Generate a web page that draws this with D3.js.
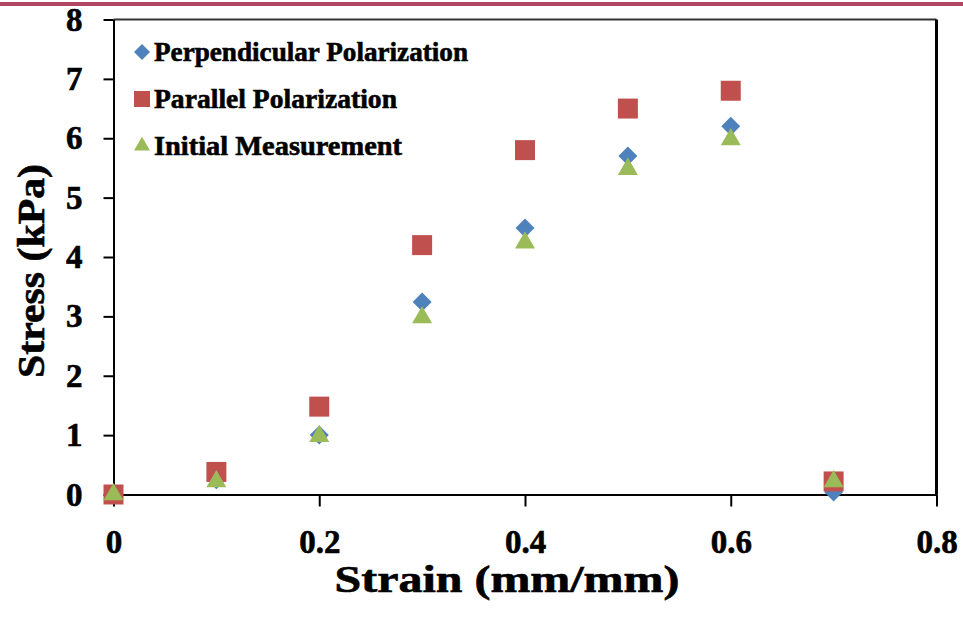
<!DOCTYPE html>
<html>
<head>
<meta charset="utf-8">
<script src="https://cdn.jsdelivr.net/npm/d3@7"></script>
<style>
  body { margin: 0; background: #fff; }
  svg text { font-family: "Times New Roman", "Liberation Serif", Tinos, Times, serif !important; font-weight: bold; stroke: #000; stroke-width: 0.6px; }
</style>
</head>
<body>
<script>
(function() {

var strain        = [0, 0.1, 0.2, 0.3, 0.4, 0.5, 0.6, 0.7],
    perpendicular = [0, 0.25, 1.0, 3.24, 4.49, 5.7, 6.2, 0.04],
    parallel      = [0, 0.38, 1.48, 4.2, 5.8, 6.5, 6.8, 0.22],
    initial       = [0, 0.22, 0.98, 2.98, 4.24, 5.48, 5.98, 0.22],
    seriesNames   = ["Perpendicular Polarization", "Parallel Polarization", "Initial Measurement"],
    xTicks        = [0, 0.2, 0.4, 0.6, 0.8],
    yTicks        = [0, 1, 2, 3, 4, 5, 6, 7, 8];

var width = 963, height = 618,
    left = 113.5, right = 936.5, top = 19.5, bottom = 494.5,
    colors  = ["#4f81bd", "#c0504d", "#9bbb59"],
    shapes  = ["diamond", "square", "triangle"],
    svg, x, y, series;

function marker(shape, s) {
  // s = nominal width of the marker in px
  if (shape === "square")
    return d3.symbol(d3.symbolSquare, s * s)();
  if (shape === "diamond")
    return d3.symbol(d3.symbolSquare, s * s / 2)();
  return d3.symbol(d3.symbolTriangle, s * s * Math.sqrt(3) / 4)();
}

svg = d3.select("body").append("svg")
    .attr("width", width)
    .attr("height", height);

svg.append("rect")
    .attr("x", 0).attr("y", 2)
    .attr("width", width).attr("height", 4)
    .attr("fill", "#b24661");

x = d3.scaleLinear().domain([0, 0.8]).range([left, right]);
y = d3.scaleLinear().domain([0, 8]).range([bottom, top]);

/* frame: top and right */
svg.append("line")
    .attr("x1", left).attr("x2", right)
    .attr("y1", top).attr("y2", top)
    .attr("stroke", "#333").attr("stroke-width", 2);
svg.append("line")
    .attr("x1", right).attr("x2", right)
    .attr("y1", top).attr("y2", bottom)
    .attr("stroke", "#000").attr("stroke-width", 3);

var xAxis = svg.append("g")
    .attr("transform", "translate(0," + bottom + ")")
    .call(d3.axisBottom(x).tickValues(xTicks).tickSize(12).tickSizeOuter(0)
      .tickFormat(function(d) { return d === 0 ? "0" : d3.format(".1f")(d); }));

var yAxis = svg.append("g")
    .attr("transform", "translate(" + left + ",0)")
    .call(d3.axisLeft(y).tickValues(yTicks).tickSize(10).tickSizeOuter(0));

[xAxis, yAxis].forEach(function(g) {
  g.attr("font-family", null).attr("font-size", null);
  g.selectAll("path, line").attr("stroke", "#000").attr("stroke-width", 2);
  g.selectAll("text")
    .attr("fill", "#000")
    .style("font-size", "33px");
});
xAxis.selectAll("text").attr("y", 35);
yAxis.selectAll("text").attr("x", -31);

/* points */
series = [perpendicular, parallel, initial];
series.forEach(function(vals, i) {
  svg.append("g")
    .selectAll("path")
    .data(vals)
    .enter()
    .append("path")
      .attr("d", marker(shapes[i], i === 0 ? 19 : 20))
      .attr("transform", function(d, j) {
        return "translate(" + x(strain[j]) + "," + y(d) + ")" + (i === 0 ? " rotate(45)" : "");
      })
      .attr("fill", colors[i]);
});

/* legend */
var legend = svg.append("g"),
    rowY = [52, 99, 146],
    textW = [314, 243, 248];

seriesNames.forEach(function(name, i) {
  legend.append("path")
    .attr("d", marker(shapes[i], 16))
    .attr("transform", "translate(142," + rowY[i] + ")" + (i === 0 ? " rotate(45)" : ""))
    .attr("fill", colors[i]);
  legend.append("text")
    .attr("x", 154)
    .attr("y", rowY[i] + 9)
    .attr("textLength", textW[i])
    .attr("lengthAdjust", "spacingAndGlyphs")
    .style("font-size", "28px")
    .text(name);
});

/* axis titles */
svg.append("text")
    .attr("x", 507).attr("y", 592)
    .attr("text-anchor", "middle")
    .attr("textLength", 345)
    .attr("lengthAdjust", "spacingAndGlyphs")
    .style("font-size", "37px")
    .text("Strain (mm/mm)");

svg.append("text")
    .attr("transform", "translate(44,271) rotate(-90)")
    .attr("text-anchor", "middle")
    .attr("textLength", 214)
    .attr("lengthAdjust", "spacingAndGlyphs")
    .style("font-size", "37px")
    .text("Stress (kPa)");

}());
</script>
</body>
</html>
